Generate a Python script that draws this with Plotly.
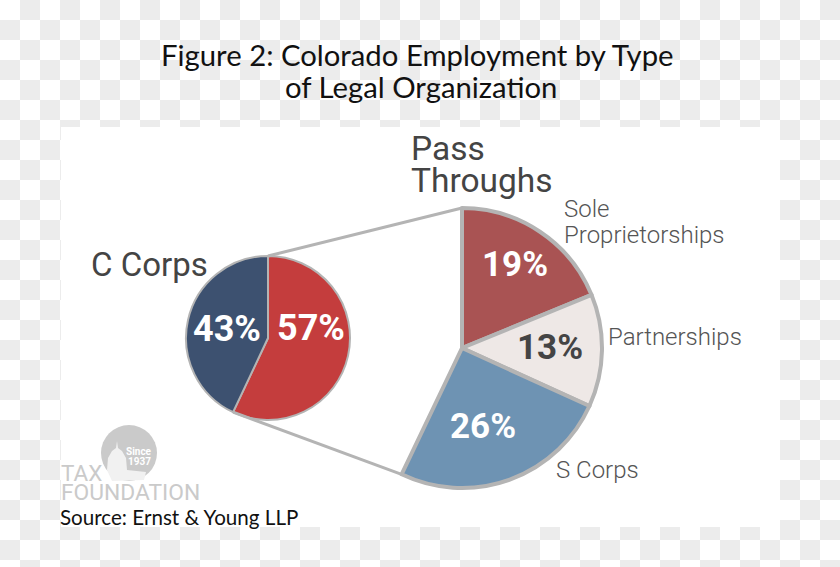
import math
import plotly.graph_objects as go

# values
c_corp_labels = ["Pass Throughs", "C Corps"]
c_corp_values = [57, 43]
c_corp_text = ["57%", "43%"]
c_corp_colors = ["#c43d3d", "#3d5170"]

pass_labels = ["Sole Proprietorships", "Partnerships", "S Corps", ""]
pass_values = [18.8, 13.0, 25.3, 42.9]
pass_text = ["19%", "13%", "26%"]
pass_colors = ["#a95353", "#eee8e6", "#6e93b3", "rgba(0,0,0,0)"]

W, H = 840, 567
LINE = "#b4b4b4"
DARK = "#444444"

# pixel helpers
def px(x):
    return x / W

def py(y):
    return 1 - y / H

def pie_domain(cx, cy, r):
    return dict(x=[px(cx - r), px(cx + r)], y=[py(cy + r), py(cy - r)])

def on_rim(cx, cy, r, share):
    a = 2 * math.pi * share / 100
    return cx + r * math.sin(a), cy - r * math.cos(a)

left = (268, 338, 82)
right = (462, 348, 140)

fig = go.Figure()

fig.add_trace(go.Pie(
    labels=c_corp_labels, values=c_corp_values, sort=False, direction="clockwise",
    rotation=0, textinfo="none", hoverinfo="label+percent",
    marker=dict(colors=c_corp_colors, line=dict(color=LINE, width=2)),
    domain=pie_domain(*left), showlegend=False,
))
fig.add_trace(go.Pie(
    labels=pass_labels, values=pass_values, sort=False, direction="clockwise",
    rotation=0, textinfo="none", hoverinfo="label",
    marker=dict(colors=pass_colors, line=dict(color=LINE, width=[4, 4, 4, 0])),
    domain=pie_domain(*right), showlegend=False,
))

shapes = []

# checkerboard behind the picture
for i in range(W // 20 + 1):
    for j in range(H // 20 + 1):
        if (i + j) % 2 == 1:
            shapes.append(dict(type="rect", xref="paper", yref="paper", layer="below",
                               x0=px(i * 20), x1=px(i * 20 + 20), y0=py(j * 20), y1=py(j * 20 + 20),
                               fillcolor="#ececec", line_width=0))
shapes.append(dict(type="rect", xref="paper", yref="paper", layer="below",
                   x0=px(61), x1=px(780), y0=py(127), y1=py(527),
                   fillcolor="white", line_width=0))

# connector lines from the small pie to the big one
split = c_corp_values[0]
tops = on_rim(*left, 0), on_rim(*right, 0)
bottoms = on_rim(*left, split), on_rim(*right, sum(pass_values[:3]))
for a, b in (tops, bottoms):
    shapes.append(dict(type="line", xref="paper", yref="paper",
                       x0=px(a[0]), y0=py(a[1]), x1=px(b[0]), y1=py(b[1]),
                       line=dict(color=LINE, width=3)))

# logo
LOGO = "#cacaca"
shapes.append(dict(type="circle", xref="paper", yref="paper", layer="below",
                   x0=px(101), x1=px(157), y0=py(425), y1=py(481),
                   fillcolor=LOGO, line_width=0))
dome = [(107, 470), (108, 458), (112, 451), (116, 448), (117, 441), (118, 448),
        (122, 451), (126, 458), (127, 470), (146, 472), (144, 480), (112, 481)]
path = "M " + " L ".join(f"{px(x)} {py(y)}" for x, y in dome) + " Z"
shapes.append(dict(type="path", xref="paper", yref="paper", layer="below", path=path,
                   fillcolor="#f1f1f1", line_width=0))
fig.update_layout(shapes=shapes)

def note(text, x, y, size, color=DARK, family="Roboto", anchor="center", bold=False):
    if bold:
        text = f"<b>{text}</b>"
    fig.add_annotation(text=text, xref="paper", yref="paper", x=px(x), y=py(y),
                       xanchor=anchor, yanchor="middle", showarrow=False, borderpad=0,
                       borderwidth=0, font=dict(family=family, size=size, color=color))

# title and source
note("Figure 2: Colorado Employment by Type", 417, 54, 29.3, "#111111", "Lato")
note("of Legal Organization", 421, 86, 29.3, "#111111", "Lato")
note("Source: Ernst &amp; Young LLP", 60, 517, 20.6, "#111111", "Lato", "left")

# group headings
note("C Corps", 91, 264, 33, anchor="left")
note("Pass", 411, 149, 33.5, anchor="left")
note("Throughs", 411, 180, 33.5, anchor="left")

# slice names
note("Sole", 564, 209, 24, "#555555", "Roboto Light", "left")
note("Proprietorships", 564, 235, 24, "#555555", "Roboto Light", "left")
note("Partnerships", 608, 337, 24, "#555555", "Roboto Light", "left")
note("S Corps", 556, 470, 24, "#555555", "Roboto Light", "left")

# percentages
note(c_corp_text[1], 227, 329, 36, "white", bold=True)
note(c_corp_text[0], 311, 328, 36, "white", bold=True)
note(pass_text[0], 515, 265, 35, "white", bold=True)
note(pass_text[1], 550, 347, 35, DARK, bold=True)
note(pass_text[2], 483, 426, 35, "white", bold=True)

# logo lettering
note("Since", 139, 451, 10, "white", "Roboto", bold=True)
note("1937", 139, 461, 10, "white", "Roboto", bold=True)
note("TAX", 61, 473, 22.5, LOGO, "Roboto", "left")
note("FOUNDATION", 61, 492, 22.8, LOGO, "Roboto", "left")

fig.update_layout(width=W, height=H, margin=dict(l=0, r=0, t=0, b=0),
                  paper_bgcolor="white", plot_bgcolor="white")

# the page's default body margin would push the picture off by 8px
fig.write_html("out.html", config={"displayModeBar": False},
               post_script="document.body.style.margin='0';")
